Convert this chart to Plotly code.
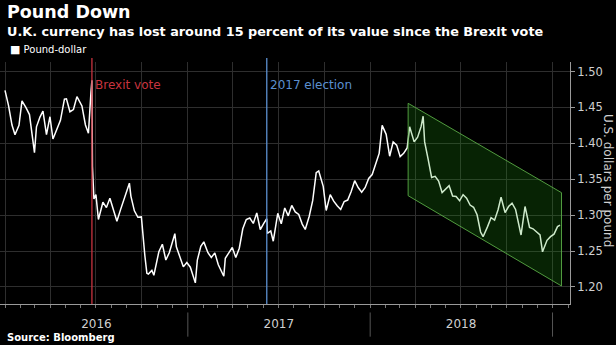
import plotly.graph_objects as go

# ---- data: GBP/USD (approx. weekly readings taken from the chart) ----
dates = [
 "2016-01-01","2016-01-08","2016-01-15","2016-01-21","2016-01-29","2016-02-04","2016-02-12","2016-02-19","2016-02-29",
 "2016-03-04","2016-03-11","2016-03-17","2016-03-24","2016-03-31","2016-04-06","2016-04-15","2016-04-21","2016-04-29",
 "2016-05-03","2016-05-10","2016-05-17","2016-05-24","2016-06-03","2016-06-10","2016-06-16","2016-06-21","2016-06-23",
 "2016-06-24","2016-06-27","2016-07-01","2016-07-06","2016-07-15","2016-07-22","2016-07-29","2016-08-05","2016-08-12",
 "2016-08-19","2016-08-26","2016-09-06","2016-09-09","2016-09-16","2016-09-23","2016-09-30","2016-10-07","2016-10-11",
 "2016-10-14","2016-10-21","2016-10-25","2016-11-04","2016-11-11","2016-11-18","2016-11-25","2016-12-06","2016-12-09",
 "2016-12-16","2016-12-23","2016-12-30",
 "2017-01-06","2017-01-16","2017-01-20","2017-01-27","2017-02-02","2017-02-10","2017-02-17","2017-02-24","2017-03-03",
 "2017-03-14","2017-03-17","2017-03-24","2017-03-31","2017-04-07","2017-04-14","2017-04-21","2017-04-28","2017-05-05",
 "2017-05-12","2017-05-19","2017-05-26","2017-06-02","2017-06-08","2017-06-09","2017-06-16","2017-06-21","2017-06-30",
 "2017-07-07","2017-07-14","2017-07-21","2017-07-28","2017-08-04","2017-08-11","2017-08-18","2017-08-24","2017-09-01",
 "2017-09-08","2017-09-15","2017-09-20","2017-09-29","2017-10-05","2017-10-13","2017-10-20","2017-10-27","2017-11-03",
 "2017-11-10","2017-11-17","2017-11-24","2017-12-01","2017-12-08","2017-12-15","2017-12-22","2017-12-29",
 "2018-01-05","2018-01-12","2018-01-19","2018-01-25","2018-02-02","2018-02-09","2018-02-16","2018-02-23","2018-03-02",
 "2018-03-09","2018-03-16","2018-03-21","2018-03-30","2018-04-06","2018-04-13","2018-04-17","2018-04-20","2018-04-27",
 "2018-05-04","2018-05-11","2018-05-18","2018-05-25","2018-06-01","2018-06-08","2018-06-15","2018-06-22","2018-06-29",
 "2018-07-06","2018-07-13","2018-07-20","2018-07-27","2018-08-03","2018-08-10","2018-08-15","2018-08-24","2018-08-31",
 "2018-09-07","2018-09-14","2018-09-20","2018-09-28","2018-10-05","2018-10-12","2018-10-19","2018-10-30","2018-11-07",
 "2018-11-16","2018-11-23","2018-11-30","2018-12-07","2018-12-12","2018-12-21","2018-12-28",
 "2019-01-04","2019-01-11","2019-01-16",
]
values = [
 1.4736,1.4528,1.4254,1.4120,1.4250,1.4590,1.4497,1.4400,1.3870,
 1.4230,1.4365,1.4450,1.4120,1.4370,1.4060,1.4202,1.4320,1.4616,
 1.4620,1.4440,1.4470,1.4650,1.4520,1.4255,1.4140,1.4700,1.4877,
 1.3679,1.3224,1.3288,1.2940,1.3180,1.3105,1.3235,1.3080,1.2914,
 1.3070,1.3225,1.3445,1.3265,1.3060,1.2970,1.2975,1.2435,1.2191,
 1.2180,1.2230,1.2163,1.2490,1.2595,1.2375,1.2480,1.2742,1.2560,
 1.2420,1.2280,1.2340,
 1.2275,1.2057,1.2375,1.2565,1.2628,1.2480,1.2410,1.2475,1.2310,
 1.2150,1.2400,1.2475,1.2550,1.2410,1.2540,1.2810,1.2940,1.2960,
 1.2885,1.3030,1.2800,1.2885,1.2950,1.2745,1.2780,1.2637,1.3025,
 1.2880,1.3100,1.2990,1.3135,1.3045,1.3010,1.2875,1.2800,1.2985,
 1.3205,1.3590,1.3615,1.3400,1.3065,1.3285,1.3195,1.3130,1.3080,
 1.3190,1.3210,1.3330,1.3480,1.3385,1.3320,1.3385,1.3510,
 1.3565,1.3725,1.3860,1.4250,1.4125,1.3820,1.4020,1.3975,1.3815,
 1.3860,1.3935,1.4230,1.4020,1.4085,1.4235,1.4377,1.4020,1.3780,
 1.3525,1.3540,1.3475,1.3315,1.3360,1.3410,1.3265,1.3260,1.3200,
 1.3285,1.3235,1.3140,1.3110,1.3005,1.2765,1.2700,1.2840,1.2965,
 1.2930,1.3075,1.3250,1.3035,1.3120,1.3166,1.3080,1.2724,1.3120,
 1.2830,1.2810,1.2760,1.2725,1.2490,1.2650,1.2700,
 1.2735,1.2840,1.2860,
]

year_mid = ["2016-07-02", "2017-07-02", "2018-07-02"]
year_labels = ["2016", "2017", "2018"]
year_starts = ["2017-01-01", "2018-01-01", "2019-01-01"]

event_dates = ["2016-06-23", "2017-06-08"]
event_labels = ["Brexit vote", "2017 election"]
event_colors = ["#c8343f", "#5b8fd0"]

channel_dates = ["2018-03-18", "2019-01-19"]
channel_upper = [1.4557, 1.3313]
channel_lower = [1.3271, 1.2014]

y_ticks = [1.20, 1.25, 1.30, 1.35, 1.40, 1.45, 1.50]

x_range = ["2015-12-22", "2019-02-05"]
y_range = [1.1763, 1.5132]

FONT = "DejaVu Sans"

fig = go.Figure()

fig.add_trace(go.Scatter(
    x=dates, y=values, mode="lines",
    line=dict(color="#ffffff", width=1.5),
    showlegend=False, hoverinfo="skip"))

# trend channel (drawn on top, translucent green)
cx = [channel_dates[0], channel_dates[1], channel_dates[1], channel_dates[0], channel_dates[0]]
cy = [channel_upper[0], channel_upper[1], channel_lower[1], channel_lower[0], channel_upper[0]]
fig.add_trace(go.Scatter(
    x=cx, y=cy, mode="lines", fill="toself",
    fillcolor="rgba(30,160,20,0.22)",
    line=dict(color="rgba(90,170,70,0.9)", width=1),
    showlegend=False, hoverinfo="skip"))

# overlay axis for year labels
fig.add_trace(go.Scatter(x=x_range, y=[None, None], xaxis="x2", yaxis="y",
                         mode="lines", showlegend=False, hoverinfo="skip"))

shapes = []
annotations = []
for d, lab, col in zip(event_dates, event_labels, event_colors):
    shapes.append(dict(type="line", xref="x", yref="paper", x0=d, x1=d, y0=0, y1=1.0165,
                       line=dict(color=col, width=1.3), layer="above"))
    annotations.append(dict(x=d, y=0.905, xref="x", yref="paper", text=lab, showarrow=False,
                            xanchor="left", yanchor="middle", xshift=1,
                            font=dict(family=FONT, size=12, color=col)))

for d in year_starts:
    shapes.append(dict(type="line", xref="x", yref="paper", x0=d, x1=d, y0=-0.035, y1=-0.135,
                       line=dict(color="#555555", width=1)))

annotations += [
    dict(x=0.008, y=1.207, xref="paper", yref="paper", xanchor="left", yanchor="middle",
         text="<b>Pound Down</b>", showarrow=False, font=dict(family=FONT, size=17.5, color="#ffffff")),
    dict(x=0.008, y=1.128, xref="paper", yref="paper", xanchor="left", yanchor="middle",
         text="<b>U.K. currency has lost around 15 percent of its value since the Brexit vote</b>",
         showarrow=False, font=dict(family=FONT, size=12.8, color="#ffffff")),
    dict(x=0.014, y=1.05, xref="paper", yref="paper", xanchor="left", yanchor="middle",
         text="<span style='font-size:11px'>■</span> Pound-dollar", showarrow=False,
         font=dict(family=FONT, size=10, color="#ffffff")),
    dict(x=0.008, y=-0.137, xref="paper", yref="paper", xanchor="left", yanchor="middle",
         text="<b>Source: Bloomberg</b>", showarrow=False,
         font=dict(family=FONT, size=10, color="#ffffff")),
    dict(x=1.067, y=0.512, xref="paper", yref="paper", xanchor="center", yanchor="middle",
         text="U.S. dollars per pound", textangle=90, showarrow=False,
         font=dict(family=FONT, size=12, color="#d0d0d0")),
]

fig.update_layout(
    width=616, height=345,
    margin=dict(l=0, r=46, t=62, b=41),
    paper_bgcolor="#000000", plot_bgcolor="#000000",
    showlegend=False,
    shapes=shapes, annotations=annotations,
    xaxis=dict(
        type="date", range=x_range, tick0="2016-01-01", dtick="M3",
        showgrid=True, gridcolor="#2e2e2e", gridwidth=1,
        showticklabels=False, ticks="outside", ticklen=3, tickcolor="#777777",
        showline=True, linecolor="#9a9a9a", linewidth=1, zeroline=False,
        minor=dict(dtick="M1", tick0="2016-01-01", ticks="outside", ticklen=3,
                   tickcolor="#777777", showgrid=False),
    ),
    xaxis2=dict(
        type="date", range=x_range, overlaying="x", side="bottom", anchor="y",
        tickmode="array", tickvals=year_mid, ticktext=year_labels,
        ticks="outside", ticklen=9, tickcolor="rgba(0,0,0,0)",
        showgrid=False, showline=False, zeroline=False,
        tickfont=dict(family=FONT, size=12, color="#d0d0d0"),
    ),
    yaxis=dict(
        range=y_range, side="right", tickmode="array", tickvals=y_ticks,
        tickformat=".2f", showgrid=True, gridcolor="#2e2e2e", gridwidth=1,
        ticks="outside", ticklen=4, tickcolor="#9a9a9a",
        showline=True, linecolor="#9a9a9a", linewidth=1, zeroline=False,
        tickfont=dict(family=FONT, size=11.5, color="#d0d0d0"),
    ),
)

fig.write_html("out.html")
